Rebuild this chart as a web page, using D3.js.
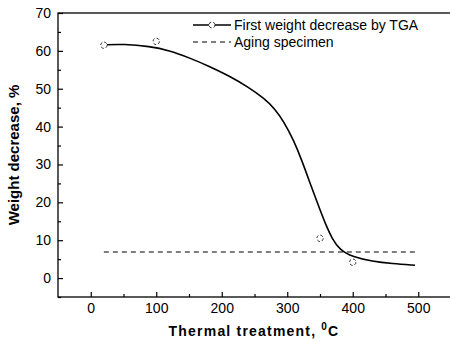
<!DOCTYPE html>
<html>
<head>
<meta charset="utf-8">
<script src="https://cdn.jsdelivr.net/npm/d3@7"></script>
<style>
  body { margin: 0; background: #fff; }
  text { font-family: "Liberation Sans", Arial, sans-serif; fill: #000; }
</style>
</head>
<body>
<div class="chart"></div>
<script>
// fitted TGA curve
const curveX = [20, 50, 90, 120, 150, 180, 210, 240, 265, 280, 295, 310, 322, 335, 350, 360, 368, 380, 400, 430, 460, 495];
const curveY = [61.6, 61.8, 61.2, 60.1, 58.2, 56, 53.5, 50.5, 47.4, 44.9, 41.3, 36.3, 31.2, 25, 18, 13.6, 10.6, 7.4, 5.6, 4.4, 3.8, 3.4];
// measured points (open circles)
const pointX = [20, 100, 350, 400];
const pointY = [61.5, 62.5, 10.5, 4.2];
// aging specimen level
const agingX = [20, 500];
const agingY = [6.9, 6.9];

const xTicks = [0, 100, 200, 300, 400, 500];
const yTicks = [0, 10, 20, 30, 40, 50, 60, 70];

const margin = {top: 13, left: 58, right: -1, bottom: 44};
const W = 450, H = 341;
const width = W - margin.left - margin.right,
      height = H - margin.top - margin.bottom;

const svg = d3.select('.chart').append('svg')
    .attr("width", W)
    .attr("height", H);

const g = svg.append("g")
    .attr("transform", "translate(" + margin.left + "," + margin.top + ")");

const x = d3.scaleLinear().domain([-50, 550]).range([0, width]);
const y = d3.scaleLinear().domain([-5, 70]).range([height, 0]);

// frame
g.append("rect")
    .attr("width", width).attr("height", height)
    .attr("fill", "none").attr("stroke", "#000").attr("stroke-width", 1.3);

// bottom axis, ticks inside
const xAxis = g.append("g")
    .attr("transform", "translate(0," + height + ")")
    .call(d3.axisBottom(x).tickValues(xTicks).tickSize(-5).tickPadding(6));
g.append("g")
    .attr("transform", "translate(0," + height + ")")
    .call(d3.axisBottom(x).tickValues(d3.range(50, 551, 100)).tickSize(-3).tickFormat(""));

const yAxis = g.append("g")
    .call(d3.axisLeft(y).tickValues(yTicks).tickSize(-5).tickPadding(7));
g.append("g")
    .call(d3.axisLeft(y).tickValues(d3.range(-5, 70, 10)).tickSize(-3).tickFormat(""));

g.selectAll(".domain").remove();
g.selectAll(".tick line").attr("stroke", "#000").attr("stroke-width", 1.2);
xAxis.selectAll("text").attr("font-size", 14);
yAxis.selectAll("text").attr("font-size", 14);

// aging specimen dashed line
const line = d3.line().x(d => x(d[0])).y(d => y(d[1]));
g.append("path")
    .datum(d3.zip(agingX, agingY))
    .attr("d", line)
    .attr("fill", "none").attr("stroke", "#000")
    .attr("stroke-width", 1.1).attr("stroke-dasharray", "5,4");

// TGA curve
const smooth = d3.line().x(d => x(d[0])).y(d => y(d[1])).curve(d3.curveBasis);
g.append("path")
    .datum(d3.zip(curveX, curveY))
    .attr("d", smooth)
    .attr("fill", "none").attr("stroke", "#000").attr("stroke-width", 1.6);

g.selectAll(".pt")
    .data(d3.zip(pointX, pointY))
    .enter().append("circle")
    .attr("class", "pt")
    .attr("cx", d => x(d[0])).attr("cy", d => y(d[1]))
    .attr("r", 3.2)
    .attr("fill", "#fff").attr("stroke", "#000").attr("stroke-width", 0.8)
    .attr("stroke-dasharray", "3,2");

// legend
const leg = g.append("g").attr("transform", "translate(135,12)");
leg.append("line").attr("x1", 0).attr("x2", 38).attr("y1", 0).attr("y2", 0)
    .attr("stroke", "#000").attr("stroke-width", 1.4);
leg.append("circle").attr("cx", 19).attr("cy", 0).attr("r", 3)
    .attr("fill", "#fff").attr("stroke", "#000").attr("stroke-width", 0.8)
    .attr("stroke-dasharray", "3,2");
leg.append("text").attr("x", 41).attr("y", 5).attr("font-size", 14)
    .text("First weight decrease by TGA");
leg.append("line").attr("x1", 0).attr("x2", 38).attr("y1", 17).attr("y2", 17)
    .attr("stroke", "#000").attr("stroke-width", 1.1).attr("stroke-dasharray", "5,4");
leg.append("text").attr("x", 41).attr("y", 22).attr("font-size", 14)
    .text("Aging specimen");

// axis titles
const xt = svg.append("text")
    .attr("x", 254).attr("y", 336)
    .attr("text-anchor", "middle")
    .attr("font-size", 14).attr("font-weight", "bold")
    .attr("letter-spacing", 1.2);
xt.append("tspan").text("Thermal treatment,  ");
xt.append("tspan").attr("dy", -6).attr("font-size", 10).text("0");
xt.append("tspan").attr("dy", 6).text("C");

svg.append("text")
    .attr("transform", "translate(19," + (margin.top + height / 2) + ") rotate(-90)")
    .attr("text-anchor", "middle")
    .attr("font-size", 15).attr("font-weight", "bold")
    .text("Weight decrease, %");
</script>
</body>
</html>
